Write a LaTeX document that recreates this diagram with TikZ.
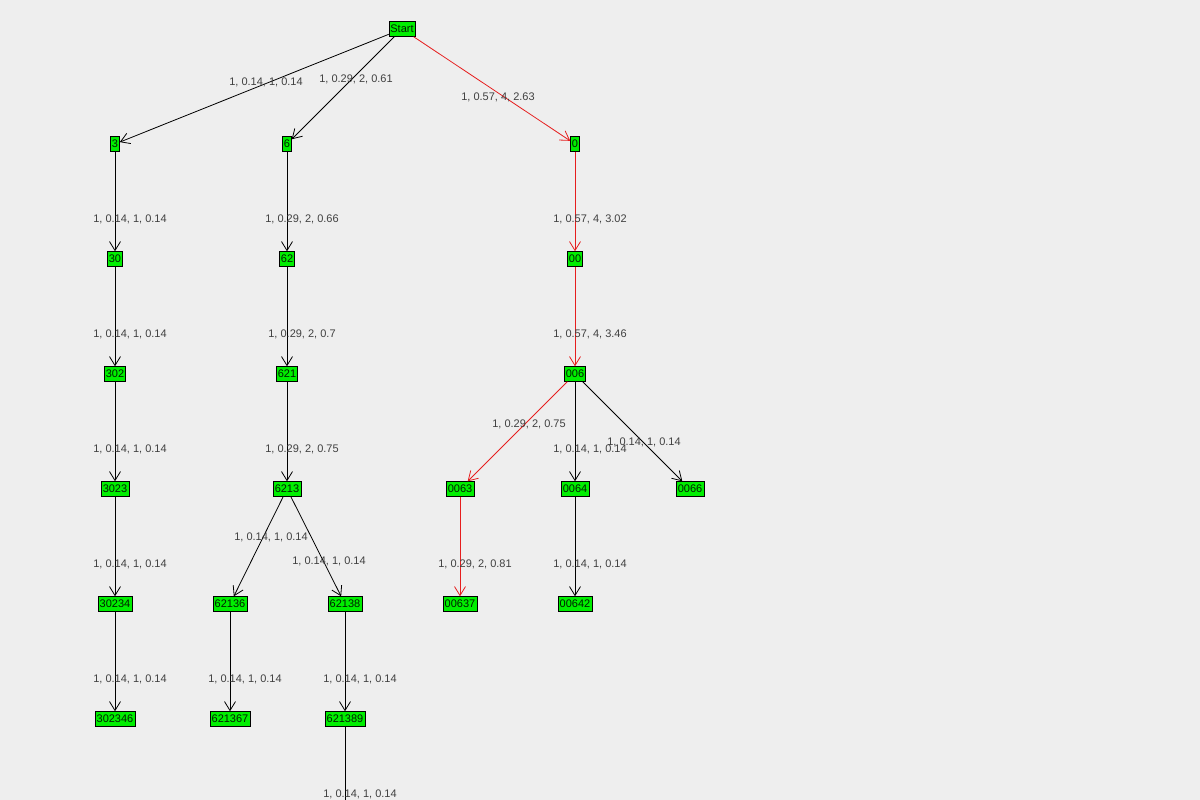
\documentclass[tikz,border=0pt]{standalone}
\usepackage{fontspec}
\setmainfont{Liberation Sans}
\usetikzlibrary{arrows.meta}
\definecolor{bg}{RGB}{238,238,238}
\definecolor{leaf}{RGB}{0,238,0}
\definecolor{path}{RGB}{230,30,30}
\begin{document}
\begin{tikzpicture}[x=1pt,y=-1pt,
	box/.style={draw=black,fill=leaf,inner sep=1.5pt,minimum height=15pt,font=\fontsize{11}{12}\selectfont,text=black!70!green!40!black},
	lbl/.style={font=\fontsize{11}{12}\selectfont,text=black!75},
	arc/.style={-{Straight Barb[length=9pt,width=11pt]},line width=0.8pt}]
	\fill[bg] (0,0) rectangle (1200,800);
	\useasboundingbox (0,0) rectangle (1200,800);
	\clip (0,0) rectangle (1200,800);
	% nodes
	\node[box] (Start) at (402,29) {Start};
	\foreach \n/\x/\y in {3/115/144, 6/287/144, 0/575/144, 30/115/259, 62/287/259, 00/575/259,
		302/115/374, 621/287/374, 006/575/374, 3023/115/489, 6213/287/489, 0063/460/489,
		0064/575/489, 0066/690/489, 30234/115/604, 62136/230/604, 62138/345/604,
		00637/460/604, 00642/575/604, 302346/115/719, 621367/230/719, 621389/345/719}
		\node[box] (n\n) at (\x,\y) {\n};
	\coordinate (below) at (345,850);
	% edges
	\foreach \a/\b/\c/\lx/\ly/\t in {Start/n3/black/266/82/{1, 0.14, 1, 0.14},
		Start/n6/black/356/79/{1, 0.29, 2, 0.61},
		Start/n0/path/498/97/{1, 0.57, 4, 2.63},
		n3/n30/black/130/219/{1, 0.14, 1, 0.14},
		n30/n302/black/130/334/{1, 0.14, 1, 0.14},
		n302/n3023/black/130/449/{1, 0.14, 1, 0.14},
		n3023/n30234/black/130/564/{1, 0.14, 1, 0.14},
		n30234/n302346/black/130/679/{1, 0.14, 1, 0.14},
		n6/n62/black/302/219/{1, 0.29, 2, 0.66},
		n62/n621/black/302/334/{1, 0.29, 2, 0.7},
		n621/n6213/black/302/449/{1, 0.29, 2, 0.75},
		n6213/n62136/black/271/537/{1, 0.14, 1, 0.14},
		n6213/n62138/black/329/561/{1, 0.14, 1, 0.14},
		n62136/n621367/black/245/679/{1, 0.14, 1, 0.14},
		n62138/n621389/black/360/679/{1, 0.14, 1, 0.14},
		n621389/below/black/360/794/{1, 0.14, 1, 0.14},
		n0/n00/path/590/219/{1, 0.57, 4, 3.02},
		n00/n006/path/590/334/{1, 0.57, 4, 3.46},
		n006/n0063/path/529/424/{1, 0.29, 2, 0.75},
		n006/n0064/black/590/449/{1, 0.14, 1, 0.14},
		n006/n0066/black/644/442/{1, 0.14, 1, 0.14},
		n0063/n00637/path/475/564/{1, 0.29, 2, 0.81},
		n0064/n00642/black/590/564/{1, 0.14, 1, 0.14}}
	{
		\draw[arc,draw=\c] (\a) -- (\b);
		\node[lbl] at (\lx,\ly) {\t};
	}
\end{tikzpicture}
\end{document}
